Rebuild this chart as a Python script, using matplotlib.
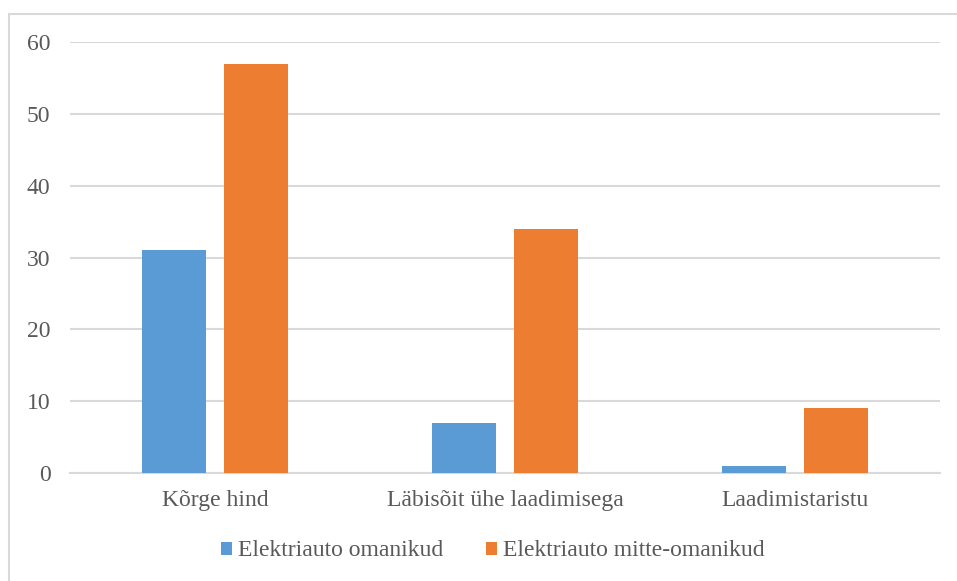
import numpy as np
import matplotlib.pyplot as plt
from matplotlib.patches import Rectangle

plt.rcParams['font.family'] = ['Liberation Serif', 'DejaVu Serif']

categories = ['Kõrge hind', 'Läbisõit ühe laadimisega', 'Laadimistaristu']
owners = [31, 7, 1]
non_owners = [57, 34, 9]
series_names = ['Elektriauto omanikud', 'Elektriauto mitte-omanikud']
colors = ['#5B9BD5', '#ED7D31']
text_color = '#595959'

fig = plt.figure(figsize=(9.57, 5.81), dpi=100)
ax = fig.add_axes([70/957, 1 - 473/581, 870/957, 431/581])

x = np.arange(len(categories))
w = 0.22
off = 0.141
ax.bar(x - off, owners, w, color=colors[0], label=series_names[0], zorder=3)
ax.bar(x + off, non_owners, w, color=colors[1], label=series_names[1], zorder=3)

ax.set_xlim(-0.5, 2.5)
ax.set_ylim(0, 60)
ax.set_yticks(range(0, 61, 10))
ax.set_xticks(x)
ax.set_xticklabels(categories)
ax.yaxis.grid(True, color='#D9D9D9', linewidth=1.5, zorder=0)
ax.set_axisbelow(True)
for s in ['top', 'right', 'left']:
    ax.spines[s].set_visible(False)
ax.spines['bottom'].set_color('#D9D9D9')
ax.spines['bottom'].set_linewidth(1.5)
ax.tick_params(axis='both', length=0, labelsize=17, labelcolor=text_color)
ax.tick_params(axis='y', pad=14)
ax.tick_params(axis='x', pad=12)

leg = fig.legend(loc='center', bbox_to_anchor=(493/957, 1 - 551/581), ncol=2,
                 frameon=False, fontsize=17, handlelength=0.47, handleheight=0.47,
                 handletextpad=0.25, columnspacing=1.8, labelcolor=text_color)

fig.patches.append(Rectangle((9/957, -0.05), 1, 1 - 14/581 + 0.05,
                             transform=fig.transFigure, fill=False,
                             edgecolor='#D9D9D9', linewidth=1.5))

fig.savefig('out.png', dpi=100)
